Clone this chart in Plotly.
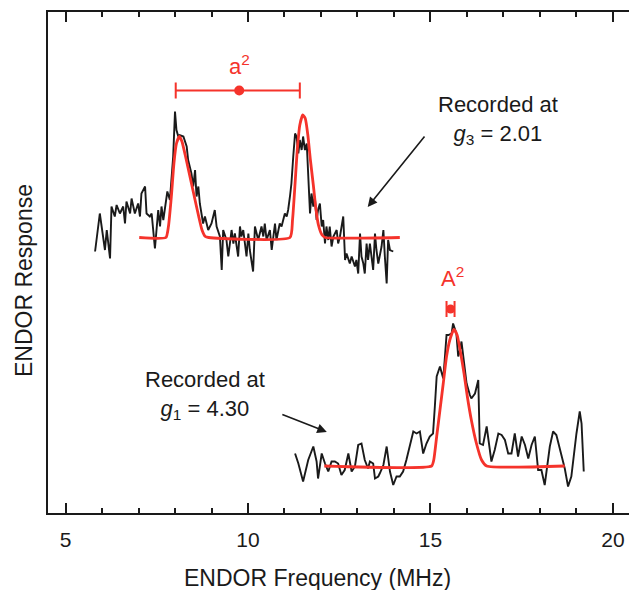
import plotly.graph_objects as go

# ---------------- data (MHz, arbitrary response units) ----------------
g3_freq = [5.81, 5.94, 6.08, 6.13, 6.22, 6.26, 6.35, 6.40, 6.49, 6.58, 6.63, 6.67, 6.77, 6.81, 6.90,
           6.99, 7.04, 7.08, 7.18, 7.22, 7.31, 7.36, 7.45, 7.50, 7.54, 7.59, 7.63, 7.68, 7.72, 7.79,
           7.86, 7.91, 7.95, 8.00, 8.04, 8.09, 8.13, 8.23, 8.32, 8.36, 8.45, 8.50, 8.55, 8.59, 8.64,
           8.68, 8.77, 8.82, 8.91, 9.00, 9.09, 9.14, 9.23, 9.28, 9.32, 9.41, 9.46, 9.55, 9.60, 9.64,
           9.73, 9.78, 9.82, 9.87, 9.96, 10.01, 10.05, 10.14, 10.19, 10.28, 10.37, 10.42, 10.46, 10.51,
           10.60, 10.65, 10.74, 10.78, 10.87, 10.92, 11.01, 11.06, 11.10, 11.15, 11.19, 11.24, 11.29,
           11.33, 11.38, 11.42, 11.47, 11.51, 11.56, 11.61, 11.65, 11.70, 11.74, 11.79, 11.83, 11.88,
           11.92, 11.97, 12.02, 12.06, 12.11, 12.15, 12.20, 12.24, 12.29, 12.34, 12.43, 12.47, 12.52,
           12.61, 12.66, 12.70, 12.79, 12.84, 12.93, 12.97, 13.02, 13.07, 13.11, 13.16, 13.20, 13.25,
           13.29, 13.34, 13.43, 13.48, 13.52, 13.57, 13.66, 13.71, 13.75, 13.80, 13.84, 13.89, 13.98]
g3_resp = [5.23, 5.99, 5.26, 5.66, 5.09, 6.13, 5.93, 6.16, 5.99, 6.13, 5.79, 6.23, 5.99, 6.29, 5.99,
           6.19, 5.93, 6.39, 6.53, 5.99, 5.93, 5.99, 5.29, 5.73, 6.06, 5.73, 6.13, 5.86, 6.06, 6.43,
           6.26, 6.86, 7.13, 8.03, 7.66, 7.53, 7.56, 7.53, 7.33, 7.06, 6.79, 6.53, 6.86, 6.33, 6.53,
           6.19, 5.79, 5.93, 5.66, 5.79, 6.06, 5.73, 5.53, 4.86, 5.66, 5.46, 5.13, 5.66, 5.39, 5.59,
           5.13, 5.73, 5.53, 5.66, 5.13, 5.59, 5.26, 4.83, 5.73, 5.46, 5.73, 5.53, 5.79, 5.46,
           5.66, 5.26, 5.79, 5.46, 5.79, 5.73, 5.99, 5.93, 6.06, 6.33, 6.59, 7.13, 7.59,
           7.53, 7.19, 7.46, 7.26, 7.53, 7.26, 7.39, 6.86, 5.99, 6.39, 6.13, 6.33, 5.86,
           6.06, 6.19, 5.73, 5.86, 5.39, 5.73, 5.46, 5.73, 5.33, 5.53, 5.66, 5.39, 5.53,
           5.93, 5.06, 5.19, 4.99, 5.13, 4.93, 5.06, 4.79, 5.59, 5.13, 4.99, 4.79, 5.39,
           5.06, 5.39, 4.86, 5.59, 5.26, 4.99, 5.33, 5.66, 5.13, 4.59, 5.46, 5.26, 5.23]

g3_fit_freq = [7.02, 7.75, 7.82, 7.90, 7.97, 8.04, 8.12, 8.19, 8.28, 8.37, 8.46, 8.55, 8.65, 8.74,
               8.83, 8.92, 11.15, 11.22, 11.29, 11.35, 11.42, 11.50, 11.57, 11.64, 11.71, 11.79,
               11.86, 11.93, 12.03, 12.12, 14.16]
g3_fit_resp = [5.51, 5.51, 5.73, 6.33, 6.99, 7.39, 7.53, 7.43, 7.16, 6.86, 6.56, 6.26, 5.93, 5.66,
               5.53, 5.51, 5.51, 5.86, 6.59, 7.26, 7.76, 7.96, 7.89, 7.56, 7.06, 6.56,
               6.09, 5.76, 5.56, 5.51, 5.51]

g1_freq = [11.29, 11.38, 11.51, 11.65, 11.79, 11.88, 11.92, 12.02, 12.11, 12.20,
           12.29, 12.38, 12.47, 12.56, 12.65, 12.75, 12.84, 12.93, 13.02, 13.11,
           13.20, 13.29, 13.34, 13.43, 13.48, 13.57, 13.61, 13.71, 13.80, 13.89,
           13.98, 14.07, 14.16, 14.25, 14.34, 14.44, 14.53, 14.62, 14.71, 14.80,
           14.89, 14.98, 15.07, 15.12, 15.17, 15.26, 15.35, 15.39, 15.44, 15.49,
           15.58, 15.62, 15.71, 15.76, 15.81, 15.85, 15.90, 15.99, 16.08, 16.12,
           16.22, 16.31, 16.35, 16.44, 16.54, 16.58, 16.67, 16.76, 16.86, 16.95,
           17.04, 17.13, 17.22, 17.31, 17.40, 17.50, 17.59, 17.68, 17.77, 17.86,
           17.95, 18.04, 18.13, 18.27, 18.36, 18.45, 18.55, 18.68, 18.77, 18.86,
           19.00, 19.09, 19.14, 19.20]
g1_resp = [1.19, 0.99, 0.63, 1.06, 1.33, 1.03, 0.69, 1.19, 0.99, 0.83,
           1.03, 1.03, 0.99, 0.76, 0.86, 1.19, 0.83, 0.93, 1.36, 1.39,
           1.06, 0.89, 1.03, 0.99, 0.69, 0.73, 0.79, 0.96, 1.33, 0.83,
           0.56, 0.73, 0.73, 0.83, 1.06, 1.33, 1.63, 1.59, 1.63, 1.19,
           1.39, 1.53, 1.59, 2.13, 2.73, 2.93, 2.69, 3.06, 3.56, 3.56,
           3.59, 3.79, 3.59, 3.13, 3.26, 3.43, 3.09, 2.59, 2.36, 2.29,
           2.39, 2.66, 1.39, 1.36, 1.73, 1.53, 1.03, 1.26, 1.59, 1.56,
           1.46, 1.19, 1.19, 1.59, 1.13, 1.53, 1.36, 1.09, 1.36, 1.53,
           0.86, 0.86, 0.56, 1.33, 1.63, 1.56, 1.29, 0.89, 0.53, 0.73,
           1.59, 2.03, 1.79, 0.83]

g1_fit_freq = [12.09, 15.03, 15.09, 15.17, 15.26, 15.35, 15.44, 15.53, 15.64, 15.73, 15.82,
               15.92, 16.01, 16.12, 16.26, 16.40, 16.54, 18.68]
g1_fit_resp = [0.94, 0.94, 1.06, 1.53, 2.06, 2.59, 3.13, 3.46, 3.67, 3.56, 3.23,
               2.79, 2.33, 1.86, 1.39, 1.06, 0.94, 0.94]

# hyperfine couplings (centre, span)
a2_center, a2_minus, a2_plus, a2_level = 9.76, 1.74, 1.66, 8.45
A2_center, A2_half, A2_level = 15.55, 0.11, 4.08

RED = "#f5332b"
BLACK = "#1a1a1a"
FONT = "Liberation Sans, Arial, sans-serif"

fig = go.Figure()
fig.add_trace(go.Scatter(x=g3_freq, y=g3_resp, mode="lines",
                         line=dict(color=BLACK, width=1.9)))
fig.add_trace(go.Scatter(x=g3_fit_freq, y=g3_fit_resp, mode="lines",
                         line=dict(color=RED, width=2.8, shape="spline", smoothing=0.5)))
fig.add_trace(go.Scatter(x=g1_freq, y=g1_resp, mode="lines",
                         line=dict(color=BLACK, width=1.9)))
fig.add_trace(go.Scatter(x=g1_fit_freq, y=g1_fit_resp, mode="lines",
                         line=dict(color=RED, width=2.8, shape="spline", smoothing=0.5)))

fig.add_trace(go.Scatter(x=[a2_center], y=[a2_level], mode="markers",
                         marker=dict(color=RED, size=10),
                         error_x=dict(type="data", symmetric=False, array=[a2_plus],
                                      arrayminus=[a2_minus], color=RED, thickness=2, width=8)))
fig.add_trace(go.Scatter(x=[A2_center], y=[A2_level], mode="markers",
                         marker=dict(color=RED, size=9),
                         error_x=dict(type="data", array=[A2_half], color=RED,
                                      thickness=2, width=8)))

annos = [
    dict(x=a2_center, y=8.96, text="a<sup>2</sup>", showarrow=False,
         font=dict(color=RED, size=22, family=FONT)),
    dict(x=15.59, y=4.72, text="A<sup>2</sup>", showarrow=False,
         font=dict(color=RED, size=22, family=FONT)),
    dict(x=16.85, y=7.86, text="Recorded at<br><i>g</i><sub>3</sub> = 2.01", showarrow=False,
         font=dict(color=BLACK, size=22, family=FONT)),
    dict(x=8.82, y=2.36, text="Recorded at<br><i>g</i><sub>1</sub> = 4.30", showarrow=False,
         font=dict(color=BLACK, size=22, family=FONT)),
    dict(x=13.28, y=6.12, ax=14.87, ay=7.56, axref="x", ayref="y", text="",
         showarrow=True, arrowhead=2, arrowsize=1.2, arrowwidth=1.6, arrowcolor=BLACK),
    dict(x=12.16, y=1.62, ax=10.90, ay=1.98, axref="x", ayref="y", text="",
         showarrow=True, arrowhead=2, arrowsize=1.2, arrowwidth=1.6, arrowcolor=BLACK),
    # axis titles
    dict(xref="paper", yref="paper", x=0.4639, y=-0.1297, text="ENDOR Frequency (MHz)",
         showarrow=False, xanchor="center", yanchor="middle",
         font=dict(color=BLACK, size=23, family=FONT)),
    dict(xref="paper", yref="paper", x=-0.0413, y=0.463, text="ENDOR Response",
         showarrow=False, xanchor="center", yanchor="middle", textangle=-90,
         font=dict(color=BLACK, size=23, family=FONT)),
]

fig.update_layout(
    width=629, height=590,
    margin=dict(l=48, r=0, t=12, b=77),
    paper_bgcolor="white", plot_bgcolor="white",
    showlegend=False,
    font=dict(family=FONT, size=22, color=BLACK),
    annotations=annos,
)
fig.update_xaxes(
    range=[4.52, 20.44], showgrid=False, zeroline=False,
    showline=True, linecolor=BLACK, linewidth=1.5, mirror="ticks",
    ticks="inside", ticklen=10, tickwidth=1.5, tickcolor=BLACK,
    tick0=5, dtick=5, ticklabelstandoff=7,
    minor=dict(ticks="inside", ticklen=5, dtick=1, tickwidth=1.5, tickcolor=BLACK, showgrid=False),
    tickfont=dict(size=21, family=FONT, color=BLACK),
)
fig.update_yaxes(
    range=[0, 10.02], showgrid=False, zeroline=False,
    showline=True, linecolor=BLACK, linewidth=1.5, mirror=False,
    ticks="", showticklabels=False,
)

fig.write_html("out.html")
